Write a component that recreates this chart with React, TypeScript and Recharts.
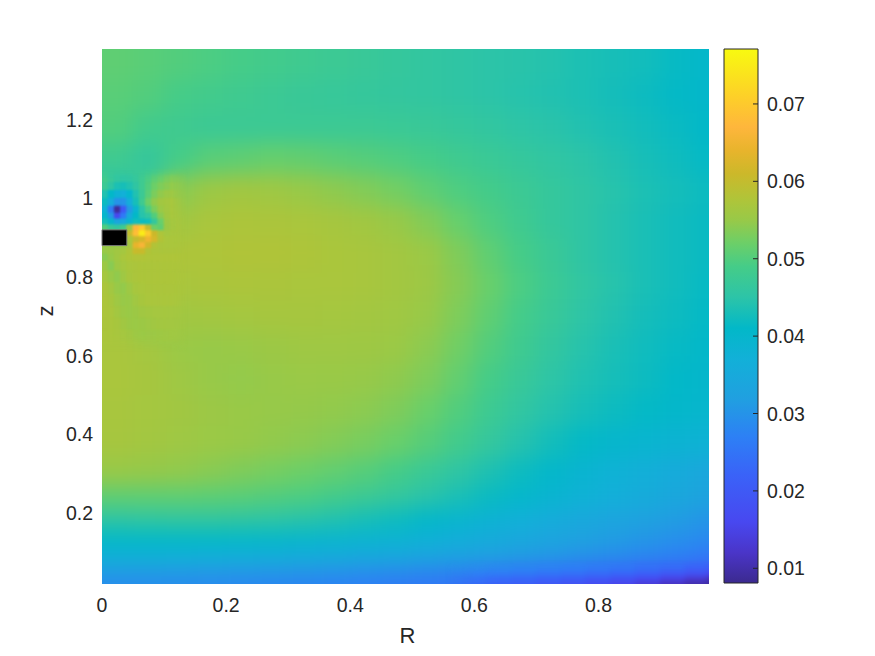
import React from 'react';
import { ComposedChart, XAxis, YAxis, ReferenceArea } from 'recharts';

const W = 875;
const H = 656;
const PLOT = { left: 102, right: 709, top: 49, bottom: 584 };
const CB = { left: 724, right: 758, top: 49, bottom: 583 };

const R_DOMAIN: [number, number] = [0, 0.978];
const Z_DOMAIN: [number, number] = [0.0193, 1.38];
const C_DOMAIN: [number, number] = [0.0081, 0.0771];

const rTicks = [0, 0.2, 0.4, 0.6, 0.8];
const zTicks = [0.2, 0.4, 0.6, 0.8, 1, 1.2];
const cTicks = [0.01, 0.02, 0.03, 0.04, 0.05, 0.06, 0.07];

const colorStops: [number, string][] = [
  [8.1, '#3b2a8f'], [12, '#4a35c8'], [16, '#4848f0'], [22, '#3a62f8'], [27, '#2d80f5'],
  [32, '#20a0e0'], [37, '#12b0d8'], [41, '#02b8c8'], [45, '#2cc4a8'], [49, '#45cc88'],
  [52, '#6ccf68'], [55, '#98c948'], [57.5, '#aec53a'], [61, '#ccb82a'], [64, '#e8b42c'],
  [67, '#feb63c'], [71, '#fdd028'], [77.1, '#f8fa10'],
];

// field values, units of 1e-3
const fieldR = [0.025, 0.075, 0.125, 0.175, 0.225, 0.275, 0.325, 0.375, 0.425, 0.475, 0.525, 0.575, 0.625, 0.675, 0.725, 0.775, 0.825, 0.875, 0.925, 0.975];
const fieldZ = [1.34, 1.26, 1.18, 1.1, 1.02, 0.94, 0.86, 0.78, 0.7, 0.62, 0.54, 0.46, 0.38, 0.3, 0.24, 0.18, 0.13, 0.09, 0.055, 0.03];
const fieldValues = [
  [51, 50.5, 50, 49.5, 49, 48.5, 48, 47.5, 47, 46.5, 46, 45.5, 45, 44.7, 44.2, 43.5, 43, 42.5, 41.5, 40.5],
  [50.5, 50, 49, 48.5, 48, 47.5, 47, 46.8, 46.5, 46.2, 46, 45.5, 45, 44.5, 44, 43.5, 42.8, 42, 41.2, 40.5],
  [50, 48.5, 48, 47.5, 47.5, 47.5, 47.5, 47.5, 47.5, 47.3, 47, 46.5, 46, 45.3, 44.8, 44, 43.3, 42.5, 41.8, 41],
  [48, 46.5, 49, 50.5, 51, 51.5, 51.3, 50.7, 50.2, 49.7, 49, 48, 47.3, 46.5, 45.8, 45, 44, 43, 42.2, 41.3],
  [45, 48, 54, 55.5, 56, 55.8, 55, 54.3, 53.5, 52.5, 51, 49.7, 48.7, 47.5, 46.5, 45.5, 44.5, 43.5, 42.8, 42],
  [52, 54, 56, 57, 57.3, 57.2, 57, 56.6, 56, 55, 53.5, 51.5, 49.7, 48, 46.5, 45.5, 44.3, 43.3, 42.4, 41.8],
  [56, 57, 57.5, 57.5, 57.7, 57.7, 57.5, 57.1, 56.8, 56.2, 55.3, 53.3, 51, 49, 47.2, 45.5, 44.3, 43.3, 42.4, 41.8],
  [56, 56.5, 57, 57.2, 57.3, 57.2, 57, 57, 56.8, 56.3, 55.6, 53.8, 51.7, 49.5, 47.5, 45.8, 44.5, 43.3, 42.4, 41.5],
  [57, 56, 56, 56.3, 56.5, 56.6, 56.6, 56.5, 56.3, 55.9, 55, 53.2, 51, 48.8, 47, 45.3, 44, 42.8, 42, 41.2],
  [57, 56.5, 55.3, 55, 55.2, 55.5, 55.8, 55.8, 55.7, 55.3, 54.2, 52.3, 50, 48, 46.1, 44.5, 43.3, 42.3, 41.5, 40.7],
  [57, 56.6, 55.8, 55, 54.7, 55, 55.2, 55.1, 54.9, 54.4, 53.2, 51.2, 49, 47, 45.3, 43.9, 42.9, 42, 41, 40.2],
  [56.8, 56.5, 56, 55.4, 55.1, 54.9, 54.8, 54.6, 54.2, 53.3, 51.8, 49.9, 47.8, 45.9, 44.3, 43, 42, 41.2, 40.5, 39.8],
  [56.6, 56.3, 55.8, 55.3, 55, 54.6, 54.2, 53.6, 52.8, 51.8, 50.3, 48.5, 46.4, 44.4, 42.6, 41.2, 40, 39.3, 38.6, 38],
  [55, 54.8, 54.5, 54, 53.3, 52.7, 52, 51.2, 50.3, 49, 47.3, 45.5, 43.7, 42, 40.4, 39, 37.8, 36.7, 35.5, 34.2],
  [51, 51, 51, 50.8, 50.5, 50, 49.5, 48.6, 47.5, 46.3, 44.8, 43.3, 41.8, 40.3, 39, 37.8, 36.6, 35.5, 34.3, 33],
  [45.5, 45.8, 46, 46, 45.7, 45.3, 44.7, 44, 43, 42, 40.7, 39.5, 38.2, 37, 35.7, 34.5, 33.5, 32.5, 31.5, 30.3],
  [41, 41, 41, 41, 40.8, 40.5, 40, 39.5, 39, 38.5, 37.5, 36.5, 35.5, 34.5, 33.5, 32.5, 31.5, 30.5, 29.5, 28.5],
  [37.5, 37.5, 37.3, 37, 36.8, 36.5, 36, 35.7, 35.2, 34.7, 34, 33.3, 32.5, 31.7, 31, 30, 29.2, 28.3, 27.3, 26],
  [33, 33, 32.8, 32.5, 32.3, 32, 31.7, 31.3, 30.8, 30.3, 29.7, 29, 28.3, 27.5, 26.7, 25.8, 25, 24.2, 23.5, 22.5],
  [29, 29, 28.8, 28.5, 28.3, 28, 27.7, 27.3, 26.8, 26.2, 25.5, 24.8, 24, 23, 23, 22, 20.8, 19.5, 18.5, 17.5],
];

// fine readings around the coil
const coilR = [0.005, 0.015, 0.025, 0.035, 0.045, 0.055, 0.065, 0.075, 0.085, 0.095, 0.105, 0.115, 0.125, 0.135];
const coilZ = [1.07, 1.05, 1.03, 1.01, 0.99, 0.97, 0.955, 0.94, 0.925, 0.91, 0.895, 0.88, 0.865, 0.85, 0.83, 0.8, 0.77, 0.74, 0.71, 0.68, 0.65, 0.62];
const coilValues = [
  [49, 47.5, 46.8, 46.5, 46.5, 47, 48, 49, 50, 51, 51.7, 52.3, 52.8, 53],
  [48.5, 47, 46, 45.5, 45.7, 46.5, 48, 49.5, 51, 52, 53, 53.8, 54.3, 54.7],
  [47.5, 45.5, 43.5, 43, 44, 45.7, 48, 50, 52, 53.2, 54, 54.7, 55.2, 55.5],
  [44, 41, 38, 37, 40, 44, 47.5, 50.5, 53, 54.5, 55.3, 55.8, 56, 56.2],
  [42, 36, 30, 30, 36, 43, 48, 52, 54.5, 56, 56.5, 56.8, 57, 57],
  [38, 26, 9, 20, 31, 39, 45, 49.5, 53, 55.3, 56.3, 56.8, 57, 57],
  [40, 31, 16, 26, 35, 41, 44.5, 46, 50, 54, 56, 56.8, 57, 57],
  [43, 40, 34, 35, 39, 42.5, 42, 42.5, 46.5, 51.5, 55.5, 56.5, 57, 57],
  [50, 47, 46, 48, 55, 67, 70, 60, 52, 51, 55.5, 56.5, 57, 57],
  [55, 55, 55, 55, 60, 68, 75, 70, 61, 57.5, 56.5, 56.8, 57, 57],
  [55, 55, 55, 55, 57, 60, 62, 65, 62, 58, 57, 57, 57, 57],
  [55, 55, 55, 55, 56.5, 64, 66, 61.5, 58, 57.2, 57, 57, 57, 57],
  [55, 55.5, 56, 56.5, 57.5, 60.5, 60.5, 58, 57.3, 57.2, 57.2, 57.2, 57.2, 57.2],
  [54, 55, 56, 57, 57.5, 57.8, 57.8, 57.6, 57.5, 57.5, 57.5, 57.5, 57.5, 57.5],
  [55.5, 54, 55.7, 56.5, 57, 57.2, 57.3, 57.3, 57.3, 57.3, 57.3, 57.3, 57.3, 57.3],
  [56.5, 55.2, 54.5, 55.8, 56.8, 57.2, 57.3, 57.3, 57.3, 57.3, 57.3, 57.3, 57.3, 57.3],
  [57.2, 56.2, 55, 54.7, 55.8, 56.7, 57, 57.2, 57.2, 57.2, 57.2, 57.2, 57.2, 57.2],
  [57.3, 56.7, 55.8, 55, 55.2, 56, 56.7, 57, 57, 57, 57, 57, 57, 57],
  [57.3, 57, 56.3, 55.5, 55.2, 55.5, 56, 56.3, 56.5, 56.5, 56.5, 56.5, 56.5, 56.5],
  [57.2, 57, 56.7, 56, 55.5, 55.3, 55.5, 55.8, 56, 56.2, 56.2, 56.2, 56.2, 56.2],
  [57.2, 57, 56.8, 56.5, 56, 55.6, 55.3, 55.4, 55.5, 55.7, 55.8, 55.9, 55.9, 55.9],
  [57.1, 57, 56.8, 56.6, 56.2, 55.8, 55.5, 55.2, 55.1, 55.2, 55.3, 55.4, 55.4, 55.4],
];

// fine readings along the bottom edge, right side
const edgeR = [0.56, 0.6, 0.64, 0.68, 0.72, 0.76, 0.8, 0.84, 0.88, 0.92, 0.96, 0.99];
const edgeZ = [0.06, 0.045, 0.03, 0.02];
const edgeValues = [
  [29.5, 29, 28.5, 28, 27.5, 27, 26.3, 25.5, 24.5, 23.5, 22, 20.5],
  [27, 26.7, 26.3, 25.8, 25.2, 24.5, 23.7, 22.7, 21.5, 20, 18.5, 16.5],
  [24.5, 24, 23.5, 23, 22, 21, 20, 18.5, 17, 15, 13, 11],
  [23, 22.5, 22, 21, 20, 18.5, 17, 15.5, 13.5, 11.5, 10, 9],
];

const coilBox = { x1: 0, x2: 0.04, y1: 0.88, y2: 0.92 };

const hex = (s: string) => [1, 3, 5].map((i) => parseInt(s.slice(i, i + 2), 16));
function colorOf(v: number): string {
  const st = colorStops;
  if (v <= st[0][0]) return st[0][1];
  for (let i = 1; i < st.length; i++) {
    if (v <= st[i][0]) {
      const t = (v - st[i - 1][0]) / (st[i][0] - st[i - 1][0]);
      const a = hex(st[i - 1][1]);
      const b = hex(st[i][1]);
      return `rgb(${a.map((c, k) => Math.round(c + (b[k] - c) * t)).join(',')})`;
    }
  }
  return st[st.length - 1][1];
}

function edgesOf(centers: number[], pad: number): number[] {
  const asc = centers[0] < centers[centers.length - 1] ? 1 : -1;
  const out: number[] = [centers[0] - asc * pad];
  for (let i = 1; i < centers.length; i++) out.push((centers[i - 1] + centers[i]) / 2);
  out.push(centers[centers.length - 1] + asc * pad);
  return out;
}

const margin = { left: PLOT.left - 60, right: W - PLOT.right, top: PLOT.top, bottom: H - PLOT.bottom - 60 };
const font = '"Liberation Sans", Arial, sans-serif';
const ink = '#262626';
const TICK_SIZE = 19.5;
const LABEL_SIZE = 22;

function Cells(rs: number[], zs: number[], vals: number[][], pad: number) {
  const re = edgesOf(rs, pad);
  const ze = edgesOf(zs, pad);
  const out: React.ReactNode[] = [];
  vals.forEach((row, j) =>
    row.forEach((v, i) => {
      const c = colorOf(v);
      out.push(
        <ReferenceArea
          key={`${j}-${i}`}
          x1={re[i]}
          x2={re[i + 1]}
          y1={ze[j + 1]}
          y2={ze[j]}
          fill={c}
          fillOpacity={1}
          stroke={c}
          strokeWidth={1}
          ifOverflow="visible"
        />,
      );
    }),
  );
  return out;
}

function Layer({ rs, zs, vals, pad, style }: { rs: number[]; zs: number[]; vals: number[][]; pad: number; style: React.CSSProperties }) {
  return (
    <div style={{ position: 'absolute', left: -PLOT.left, top: -PLOT.top, width: W, height: H, ...style }}>
      <ComposedChart width={W} height={H} margin={margin} data={[]}>
        <XAxis type="number" dataKey="r" domain={R_DOMAIN} ticks={rTicks} height={60} tick={false} axisLine={false} tickLine={false} allowDataOverflow />
        <YAxis type="number" dataKey="z" domain={Z_DOMAIN} ticks={zTicks} width={60} tick={false} axisLine={false} tickLine={false} allowDataOverflow />
        {Cells(rs, zs, vals, pad)}
      </ComposedChart>
    </div>
  );
}

const coilMask = 'linear-gradient(to right, #000 172px, transparent 188px), linear-gradient(to bottom, transparent 168px, #000 180px, #000 335px, transparent 352px)';
const edgeMask = 'linear-gradient(to right, transparent 445px, #000 500px), linear-gradient(to bottom, transparent 560px, #000 570px)';

function ColorTick(props: any) {
  const { y, payload } = props;
  return (
    <g>
      <line x1={CB.right - 5} x2={CB.right} y1={y} y2={y} stroke={ink} strokeWidth={1} />
      <text x={CB.right + 9} y={y + 7} fontSize={TICK_SIZE} fontFamily={font} fill={ink}>
        {payload.value}
      </text>
    </g>
  );
}

const maskStyle = (mask: string, blur: number) =>
  ({
    filter: `blur(${blur}px)`,
    maskImage: mask,
    WebkitMaskImage: mask,
    maskComposite: 'intersect',
    WebkitMaskComposite: 'source-in',
  }) as React.CSSProperties;

export default function App() {
  const span = C_DOMAIN[1] - C_DOMAIN[0];
  return (
    <div style={{ position: 'absolute', left: 0, top: 0, width: W, height: H, background: '#fff', overflow: 'hidden' }}>
      <div
        style={{
          position: 'absolute',
          left: PLOT.left,
          top: PLOT.top,
          width: PLOT.right - PLOT.left,
          height: PLOT.bottom - PLOT.top,
          overflow: 'hidden',
        }}
      >
        <Layer rs={fieldR} zs={fieldZ} vals={fieldValues} pad={0.3} style={{ filter: 'blur(10px)' }} />
        <Layer rs={edgeR} zs={edgeZ} vals={edgeValues} pad={0.03} style={maskStyle(edgeMask, 2.5)} />
        <Layer rs={coilR} zs={coilZ} vals={coilValues} pad={0.02} style={maskStyle(coilMask, 1.2)} />
      </div>

      <div style={{ position: 'absolute', left: 0, top: 0 }}>
        <ComposedChart width={W} height={H} margin={margin} data={[]}>
          <XAxis
            type="number"
            dataKey="r"
            domain={R_DOMAIN}
            ticks={rTicks}
            height={60}
            axisLine={false}
            tickLine={false}
            tick={{ fontSize: TICK_SIZE, fontFamily: font, fill: ink }}
            tickMargin={8}
            tickFormatter={(v: number) => String(v)}
            allowDataOverflow
            label={{ value: 'R', position: 'insideBottom', offset: 1, dx: 2, fontSize: LABEL_SIZE, fontFamily: font, fill: ink }}
          />
          <YAxis
            type="number"
            dataKey="z"
            domain={Z_DOMAIN}
            ticks={zTicks}
            width={60}
            axisLine={false}
            tickLine={false}
            tick={{ fontSize: TICK_SIZE, fontFamily: font, fill: ink }}
            tickMargin={3}
            tickFormatter={(v: number) => String(v)}
            allowDataOverflow
            label={{ value: 'z', angle: -90, position: 'insideLeft', offset: 3, fontSize: LABEL_SIZE, fontFamily: font, fill: ink }}
          />
          <ReferenceArea {...coilBox} fill="#000" fillOpacity={1} stroke="#777" strokeWidth={1} ifOverflow="visible" />
        </ComposedChart>
      </div>

      <div style={{ position: 'absolute', left: 0, top: 0 }}>
        <ComposedChart
          width={W}
          height={H}
          margin={{ left: CB.left, right: 60, top: CB.top, bottom: H - CB.bottom }}
          data={[]}
        >
          <defs>
            <linearGradient id="parulaBar" x1="0" y1="1" x2="0" y2="0">
              {colorStops.map(([v, c]) => (
                <stop key={v} offset={(v / 1000 - C_DOMAIN[0]) / span} stopColor={c} />
              ))}
            </linearGradient>
          </defs>
          <XAxis type="number" dataKey="c" domain={[0, 1]} hide allowDataOverflow />
          <YAxis
            type="number"
            dataKey="v"
            orientation="right"
            domain={C_DOMAIN}
            ticks={cTicks}
            width={W - CB.right - 60}
            axisLine={false}
            tickLine={false}
            tick={<ColorTick />}
            allowDataOverflow
          />
          <ReferenceArea x1={0} x2={1} y1={C_DOMAIN[0]} y2={C_DOMAIN[1]} fill="url(#parulaBar)" fillOpacity={1} stroke={ink} strokeWidth={1} ifOverflow="visible" />
        </ComposedChart>
      </div>
    </div>
  );
}
